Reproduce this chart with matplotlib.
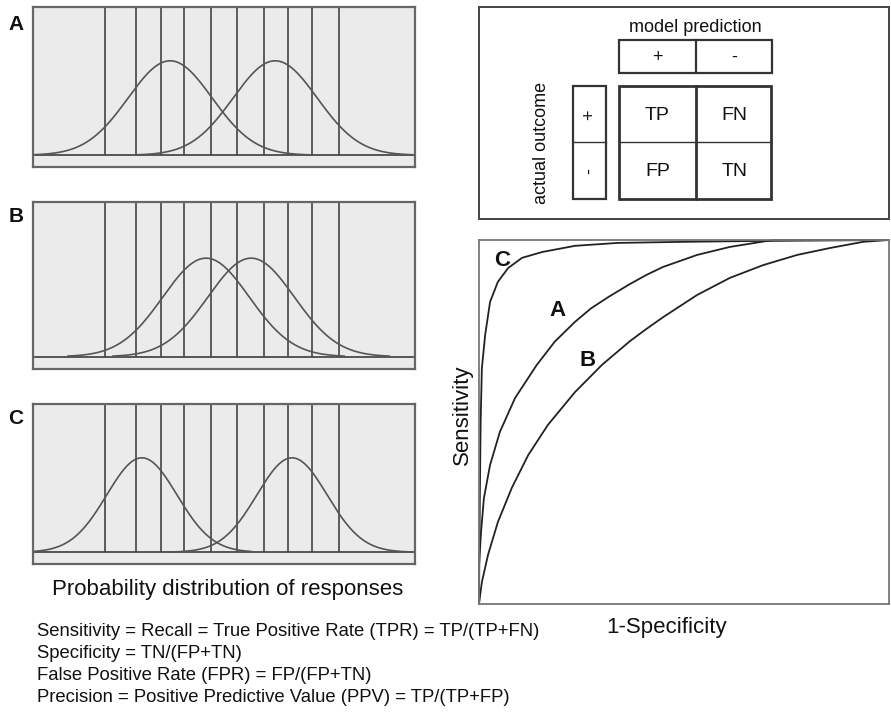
import numpy as np
import matplotlib.pyplot as plt
from matplotlib.patches import Rectangle

plt.rcParams['font.family'] = ['Liberation Sans', 'DejaVu Sans']

W, H = 891, 712

# distributions (x in 0..10 across each panel, peak height = 1)
panel_names = ["A", "B", "C"]
thresholds = [1.88, 2.70, 3.35, 3.95, 4.66, 5.34, 6.05, 6.68, 7.30, 8.01]
means = {"A": [3.59, 6.34], "B": [4.53, 5.71], "C": [2.85, 6.78]}
sds = {"A": [1.10, 1.10], "B": [1.13, 1.13], "C": [0.92, 0.92]}
spans = {"A": [3.3, 3.3], "B": [3.2, 3.2], "C": [3.1, 3.5]}

# ROC curves (FPR, TPR)
roc_C_x = [0, 0.002, 0.004, 0.007, 0.015, 0.027, 0.046, 0.071, 0.105, 0.154, 0.234, 0.339,
           0.500, 0.654, 1.0]
roc_C_y = [0, 0.29, 0.50, 0.648, 0.739, 0.830, 0.885, 0.923, 0.951, 0.967, 0.984, 0.992,
           0.995, 0.997, 1.0]
roc_A_x = [0, 0.0, 0.005, 0.012, 0.027, 0.051, 0.088, 0.141, 0.185, 0.234, 0.273, 0.315,
           0.368, 0.410, 0.449, 0.532, 0.612, 0.717, 1.0]
roc_A_y = [0, 0.107, 0.198, 0.291, 0.382, 0.473, 0.566, 0.657, 0.721, 0.775, 0.812, 0.843,
           0.879, 0.905, 0.926, 0.959, 0.981, 1.0, 1.0]
roc_B_x = [0, 0.007, 0.022, 0.046, 0.080, 0.120, 0.168, 0.234, 0.300, 0.368, 0.405, 0.449,
           0.532, 0.612, 0.693, 0.776, 0.856, 0.937, 1.0]
roc_B_y = [0, 0.060, 0.135, 0.225, 0.319, 0.409, 0.492, 0.582, 0.657, 0.722, 0.753, 0.788,
           0.849, 0.896, 0.931, 0.959, 0.978, 0.995, 1.0]

pred_labels = ["+", "-"]
actual_labels = ["+", "-"]
cells = [["TP", "FN"], ["FP", "TN"]]

formulas = [
    "Sensitivity = Recall = True Positive Rate (TPR) = TP/(TP+FN)",
    "Specificity = TN/(FP+TN)",
    "False Positive Rate (FPR) = FP/(FP+TN)",
    "Precision = Positive Predictive Value (PPV) = TP/(TP+FP)",
]

fig = plt.figure(figsize=(W / 100, H / 100), dpi=100)

# left panels (pixel boxes: left, top, right, bottom)
boxes = {"A": (33, 7, 415, 167), "B": (33, 202, 415, 369), "C": (33, 404, 415, 564)}
edge = "#666666"
for name in panel_names:
    l, t, r, b = boxes[name]
    ax = fig.add_axes([l / W, 1 - b / H, (r - l) / W, (b - t) / H])
    ax.set_facecolor("#ebebeb")
    ax.set_xlim(0, 10)
    ax.set_ylim(-0.125, 1.57)
    ax.set_xticks([])
    ax.set_yticks([])
    for s in ax.spines.values():
        s.set_color(edge)
        s.set_linewidth(1.6)
    ax.axhline(0, color="#555555", lw=1.4)
    ax.vlines(thresholds, 0, 1.57, color="#444444", lw=1.2)
    for m, sd, k in zip(means[name], sds[name], spans[name]):
        xs = np.linspace(max(0, m - k * sd), min(10, m + k * sd), 300)
        ax.plot(xs, np.exp(-0.5 * ((xs - m) / sd) ** 2), color="#555555", lw=1.2)

# ROC panel
rax = fig.add_axes([479 / W, 1 - 604 / H, 410 / W, 364 / H])
rax.set_xlim(0, 1)
rax.set_ylim(0, 1)
rax.set_xticks([])
rax.set_yticks([])
for s in rax.spines.values():
    s.set_color("#777777")
    s.set_linewidth(1.3)
for xs, ys in [(roc_C_x, roc_C_y), (roc_A_x, roc_A_y), (roc_B_x, roc_B_y)]:
    rax.plot(xs, ys, color="#222222", lw=1.3, clip_on=False, solid_joinstyle="round")

# overlay in pixel coordinates for text and the confusion matrix
ov = fig.add_axes([0, 0, 1, 1], facecolor="none")
ov.set_xlim(0, W)
ov.set_ylim(H, 0)
ov.axis("off")

tc = "#111111"
for name, y in zip(panel_names, [24, 217, 419]):
    ov.text(16, y, name, fontsize=15, fontweight="bold", ha="center", va="center", color=tc)
ov.text(228, 589, "Probability distribution of responses", fontsize=16,
        ha="center", va="center", color=tc)
for i, line in enumerate(formulas):
    ov.text(37, 632 + 22 * i, line, fontsize=13.3, ha="left", va="center", color=tc)

for name, (x, y) in zip(["C", "A", "B"], [(502, 260), (557, 311), (588, 361)]):
    ov.text(x, y, name, fontsize=16, fontweight="bold", ha="center", va="center", color=tc)
ov.text(462, 415, "Sensitivity", fontsize=16, rotation=90, ha="center", va="center", color=tc)
ov.text(667, 628, "1-Specificity", fontsize=16, ha="center", va="center", color=tc)

# confusion matrix
lc = "#333333"
ov.add_patch(Rectangle((479, 7), 410, 212, fill=False, ec="#444444", lw=1.4))
ov.text(695, 28, "model prediction", fontsize=13, ha="center", va="center", color=tc)
ov.add_patch(Rectangle((619, 40), 153, 33, fill=False, ec=lc, lw=1.6))
ov.plot([696, 696], [40, 73], color=lc, lw=1.6)
for j, lab in enumerate(pred_labels):
    ov.text(657.5 + 77 * j, 57, lab, fontsize=13, ha="center", va="center", color=tc)
ov.add_patch(Rectangle((573, 86), 33, 113, fill=False, ec=lc, lw=1.6))
ov.plot([573, 606], [142, 142], color=lc, lw=1.0)
for i, lab in enumerate(actual_labels):
    ov.text(590, 115 + 56 * i, lab, fontsize=13, rotation=90, ha="center", va="center", color=tc)
ov.add_patch(Rectangle((619, 86), 152, 113, fill=False, ec=lc, lw=2.0))
ov.plot([696, 696], [86, 199], color=lc, lw=2.0)
ov.plot([619, 771], [142, 142], color=lc, lw=1.0)
for i in range(2):
    for j in range(2):
        ov.text(657.5 + 77 * j, 115 + 56 * i, cells[i][j], fontsize=14,
                ha="center", va="center", color=tc)
ov.text(542, 143, "actual outcome", fontsize=13, rotation=90, ha="center", va="center", color=tc)

fig.savefig("out.png", dpi=100)
